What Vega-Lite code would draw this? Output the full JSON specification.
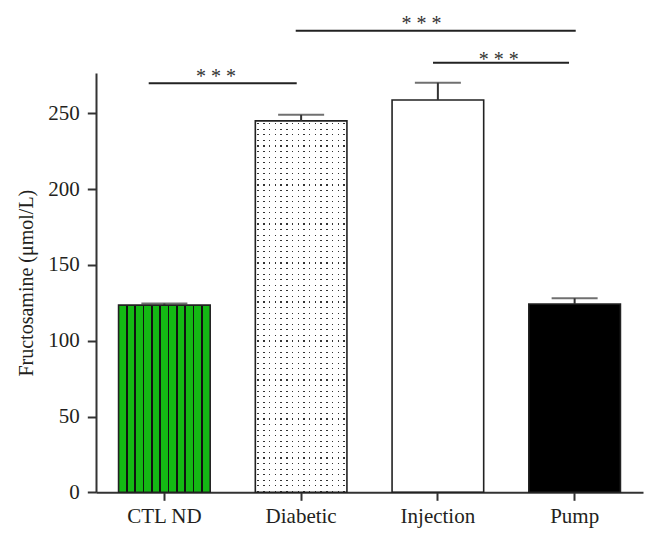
{
  "$schema": "https://vega.github.io/schema/vega-lite/v6.json",
  "autosize": {"type": "none"},
  "width": 547,
  "height": 419.3,
  "padding": {"left": 96, "top": 73, "right": 11, "bottom": 50.7},
  "background": "white",
  "config": {"view": {"stroke": null}},
  "datasets": {
    "bars": [
      {"group": "CTL ND", "value": 123.5, "upper": 124.5},
      {"group": "Diabetic", "value": 245, "upper": 249},
      {"group": "Injection", "value": 258.8, "upper": 270.2},
      {"group": "Pump", "value": 124.2, "upper": 128}
    ],
    "sig": [
      {"id": "left", "from": "CTL ND", "to": "Diabetic", "y": 269.8, "ty": 270.2, "label": "* * *"},
      {"id": "top", "from": "Diabetic", "to": "Pump", "y": 304.5, "ty": 305, "label": "* * *"},
      {"id": "mid", "from": "Injection", "to": "Pump", "y": 283.4, "ty": 281.3, "label": "* * *"}
    ]
  },
  "data": {"name": "bars"},
  "encoding": {
    "x": {
      "field": "group", "type": "nominal", "sort": null,
      "scale": {"domain": ["CTL ND", "Diabetic", "Injection", "Pump"], "paddingInner": 0.33, "paddingOuter": 0.165},
      "axis": {"title": null, "labelAngle": 0, "domainColor": "#333", "domainWidth": 2, "tickColor": "#333", "tickWidth": 2, "tickSize": 8, "labelPadding": 5, "labelFont": "Liberation Serif", "labelFontSize": 21, "labelColor": "#231f20"}
    },
    "y": {
      "field": "value", "type": "quantitative",
      "scale": {"domain": [0, 276.6], "nice": false, "zero": true},
      "axis": {"values": [0, 50, 100, 150, 200, 250], "grid": false, "title": "Fructosamine (μmol/L)", "titleFont": "Liberation Serif", "titleFontSize": 20, "titleFontWeight": "normal", "titleColor": "#231f20", "titlePadding": 11, "domainColor": "#333", "domainWidth": 2, "tickColor": "#333", "tickWidth": 2, "tickSize": 8.7, "labelPadding": 8, "labelFont": "Liberation Serif", "labelFontSize": 21, "labelColor": "#231f20"}
    }
  },
  "layer": [
    {
      "transform": [{"filter": "datum.group === 'Pump'"}],
      "mark": {"type": "bar", "fill": "black"}
    },
    {
      "transform": [{"filter": "datum.group === 'CTL ND'"}],
      "mark": {"type": "bar", "fill": {"gradient": "linear", "x1": 0, "y1": 0, "x2": 1, "y2": 0, "stops": [
        {"offset": 0, "color": "#14b814"},
        {"offset": 0.0829, "color": "#14b814"}, {"offset": 0.0829, "color": "#111"}, {"offset": 0.0989, "color": "#111"}, {"offset": 0.0989, "color": "#14b814"},
        {"offset": 0.1738, "color": "#14b814"}, {"offset": 0.1738, "color": "#111"}, {"offset": 0.1898, "color": "#111"}, {"offset": 0.1898, "color": "#14b814"},
        {"offset": 0.2647, "color": "#14b814"}, {"offset": 0.2647, "color": "#111"}, {"offset": 0.2807, "color": "#111"}, {"offset": 0.2807, "color": "#14b814"},
        {"offset": 0.3556, "color": "#14b814"}, {"offset": 0.3556, "color": "#111"}, {"offset": 0.3716, "color": "#111"}, {"offset": 0.3716, "color": "#14b814"},
        {"offset": 0.4465, "color": "#14b814"}, {"offset": 0.4465, "color": "#111"}, {"offset": 0.4625, "color": "#111"}, {"offset": 0.4625, "color": "#14b814"},
        {"offset": 0.5375, "color": "#14b814"}, {"offset": 0.5375, "color": "#111"}, {"offset": 0.5535, "color": "#111"}, {"offset": 0.5535, "color": "#14b814"},
        {"offset": 0.6284, "color": "#14b814"}, {"offset": 0.6284, "color": "#111"}, {"offset": 0.6444, "color": "#111"}, {"offset": 0.6444, "color": "#14b814"},
        {"offset": 0.7193, "color": "#14b814"}, {"offset": 0.7193, "color": "#111"}, {"offset": 0.7353, "color": "#111"}, {"offset": 0.7353, "color": "#14b814"},
        {"offset": 0.8102, "color": "#14b814"}, {"offset": 0.8102, "color": "#111"}, {"offset": 0.8262, "color": "#111"}, {"offset": 0.8262, "color": "#14b814"},
        {"offset": 0.9011, "color": "#14b814"}, {"offset": 0.9011, "color": "#111"}, {"offset": 0.9171, "color": "#111"}, {"offset": 0.9171, "color": "#14b814"},
        {"offset": 1, "color": "#14b814"}
      ]}}
    },
    {
      "transform": [{"filter": "datum.group === 'Diabetic'"}],
      "mark": {"type": "bar", "fill": {"gradient": "linear", "x1": 0, "y1": 0, "x2": 1, "y2": 0, "stops": [
        {"offset": 0, "color": "#fff"},
        {"offset": 0.02325, "color": "#fff"}, {"offset": 0.02325, "color": "#333"}, {"offset": 0.03925, "color": "#333"}, {"offset": 0.03925, "color": "#fff"},
        {"offset": 0.08575, "color": "#fff"}, {"offset": 0.08575, "color": "#333"}, {"offset": 0.10175, "color": "#333"}, {"offset": 0.10175, "color": "#fff"},
        {"offset": 0.14825, "color": "#fff"}, {"offset": 0.14825, "color": "#333"}, {"offset": 0.16425, "color": "#333"}, {"offset": 0.16425, "color": "#fff"},
        {"offset": 0.21075, "color": "#fff"}, {"offset": 0.21075, "color": "#333"}, {"offset": 0.22675, "color": "#333"}, {"offset": 0.22675, "color": "#fff"},
        {"offset": 0.27325, "color": "#fff"}, {"offset": 0.27325, "color": "#333"}, {"offset": 0.28925, "color": "#333"}, {"offset": 0.28925, "color": "#fff"},
        {"offset": 0.33575, "color": "#fff"}, {"offset": 0.33575, "color": "#333"}, {"offset": 0.35175, "color": "#333"}, {"offset": 0.35175, "color": "#fff"},
        {"offset": 0.39825, "color": "#fff"}, {"offset": 0.39825, "color": "#333"}, {"offset": 0.41425, "color": "#333"}, {"offset": 0.41425, "color": "#fff"},
        {"offset": 0.46075, "color": "#fff"}, {"offset": 0.46075, "color": "#333"}, {"offset": 0.47675, "color": "#333"}, {"offset": 0.47675, "color": "#fff"},
        {"offset": 0.52325, "color": "#fff"}, {"offset": 0.52325, "color": "#333"}, {"offset": 0.53925, "color": "#333"}, {"offset": 0.53925, "color": "#fff"},
        {"offset": 0.58575, "color": "#fff"}, {"offset": 0.58575, "color": "#333"}, {"offset": 0.60175, "color": "#333"}, {"offset": 0.60175, "color": "#fff"},
        {"offset": 0.64825, "color": "#fff"}, {"offset": 0.64825, "color": "#333"}, {"offset": 0.66425, "color": "#333"}, {"offset": 0.66425, "color": "#fff"},
        {"offset": 0.71075, "color": "#fff"}, {"offset": 0.71075, "color": "#333"}, {"offset": 0.72675, "color": "#333"}, {"offset": 0.72675, "color": "#fff"},
        {"offset": 0.77325, "color": "#fff"}, {"offset": 0.77325, "color": "#333"}, {"offset": 0.78925, "color": "#333"}, {"offset": 0.78925, "color": "#fff"},
        {"offset": 0.83575, "color": "#fff"}, {"offset": 0.83575, "color": "#333"}, {"offset": 0.85175, "color": "#333"}, {"offset": 0.85175, "color": "#fff"},
        {"offset": 0.89825, "color": "#fff"}, {"offset": 0.89825, "color": "#333"}, {"offset": 0.91425, "color": "#333"}, {"offset": 0.91425, "color": "#fff"},
        {"offset": 0.96075, "color": "#fff"}, {"offset": 0.96075, "color": "#333"}, {"offset": 0.97675, "color": "#333"}, {"offset": 0.97675, "color": "#fff"},
        {"offset": 1, "color": "#fff"}
      ]}}
    },
    {
      "transform": [{"filter": "datum.group === 'Diabetic'"}],
      "mark": {"type": "bar", "fill": {"gradient": "linear", "x1": 0, "y1": 0, "x2": 0, "y2": 1, "stops": [
        {"offset": 0, "color": "#fff"},
        {"offset": 0.006, "color": "#fff"}, {"offset": 0.006, "color": "rgba(255,255,255,0)"}, {"offset": 0.009, "color": "rgba(255,255,255,0)"}, {"offset": 0.009, "color": "#fff"},
        {"offset": 0.021, "color": "#fff"}, {"offset": 0.021, "color": "rgba(255,255,255,0)"}, {"offset": 0.024, "color": "rgba(255,255,255,0)"}, {"offset": 0.024, "color": "#fff"},
        {"offset": 0.036, "color": "#fff"}, {"offset": 0.036, "color": "rgba(255,255,255,0)"}, {"offset": 0.039, "color": "rgba(255,255,255,0)"}, {"offset": 0.039, "color": "#fff"},
        {"offset": 0.051, "color": "#fff"}, {"offset": 0.051, "color": "rgba(255,255,255,0)"}, {"offset": 0.054, "color": "rgba(255,255,255,0)"}, {"offset": 0.054, "color": "#fff"},
        {"offset": 0.066, "color": "#fff"}, {"offset": 0.066, "color": "rgba(255,255,255,0)"}, {"offset": 0.069, "color": "rgba(255,255,255,0)"}, {"offset": 0.069, "color": "#fff"},
        {"offset": 0.081, "color": "#fff"}, {"offset": 0.081, "color": "rgba(255,255,255,0)"}, {"offset": 0.084, "color": "rgba(255,255,255,0)"}, {"offset": 0.084, "color": "#fff"},
        {"offset": 0.096, "color": "#fff"}, {"offset": 0.096, "color": "rgba(255,255,255,0)"}, {"offset": 0.099, "color": "rgba(255,255,255,0)"}, {"offset": 0.099, "color": "#fff"},
        {"offset": 0.111, "color": "#fff"}, {"offset": 0.111, "color": "rgba(255,255,255,0)"}, {"offset": 0.114, "color": "rgba(255,255,255,0)"}, {"offset": 0.114, "color": "#fff"},
        {"offset": 0.126, "color": "#fff"}, {"offset": 0.126, "color": "rgba(255,255,255,0)"}, {"offset": 0.129, "color": "rgba(255,255,255,0)"}, {"offset": 0.129, "color": "#fff"},
        {"offset": 0.141, "color": "#fff"}, {"offset": 0.141, "color": "rgba(255,255,255,0)"}, {"offset": 0.144, "color": "rgba(255,255,255,0)"}, {"offset": 0.144, "color": "#fff"},
        {"offset": 0.156, "color": "#fff"}, {"offset": 0.156, "color": "rgba(255,255,255,0)"}, {"offset": 0.159, "color": "rgba(255,255,255,0)"}, {"offset": 0.159, "color": "#fff"},
        {"offset": 0.171, "color": "#fff"}, {"offset": 0.171, "color": "rgba(255,255,255,0)"}, {"offset": 0.174, "color": "rgba(255,255,255,0)"}, {"offset": 0.174, "color": "#fff"},
        {"offset": 0.186, "color": "#fff"}, {"offset": 0.186, "color": "rgba(255,255,255,0)"}, {"offset": 0.189, "color": "rgba(255,255,255,0)"}, {"offset": 0.189, "color": "#fff"},
        {"offset": 0.201, "color": "#fff"}, {"offset": 0.201, "color": "rgba(255,255,255,0)"}, {"offset": 0.204, "color": "rgba(255,255,255,0)"}, {"offset": 0.204, "color": "#fff"},
        {"offset": 0.216, "color": "#fff"}, {"offset": 0.216, "color": "rgba(255,255,255,0)"}, {"offset": 0.219, "color": "rgba(255,255,255,0)"}, {"offset": 0.219, "color": "#fff"},
        {"offset": 0.231, "color": "#fff"}, {"offset": 0.231, "color": "rgba(255,255,255,0)"}, {"offset": 0.234, "color": "rgba(255,255,255,0)"}, {"offset": 0.234, "color": "#fff"},
        {"offset": 0.246, "color": "#fff"}, {"offset": 0.246, "color": "rgba(255,255,255,0)"}, {"offset": 0.249, "color": "rgba(255,255,255,0)"}, {"offset": 0.249, "color": "#fff"},
        {"offset": 0.261, "color": "#fff"}, {"offset": 0.261, "color": "rgba(255,255,255,0)"}, {"offset": 0.264, "color": "rgba(255,255,255,0)"}, {"offset": 0.264, "color": "#fff"},
        {"offset": 0.276, "color": "#fff"}, {"offset": 0.276, "color": "rgba(255,255,255,0)"}, {"offset": 0.279, "color": "rgba(255,255,255,0)"}, {"offset": 0.279, "color": "#fff"},
        {"offset": 0.291, "color": "#fff"}, {"offset": 0.291, "color": "rgba(255,255,255,0)"}, {"offset": 0.294, "color": "rgba(255,255,255,0)"}, {"offset": 0.294, "color": "#fff"},
        {"offset": 0.306, "color": "#fff"}, {"offset": 0.306, "color": "rgba(255,255,255,0)"}, {"offset": 0.309, "color": "rgba(255,255,255,0)"}, {"offset": 0.309, "color": "#fff"},
        {"offset": 0.321, "color": "#fff"}, {"offset": 0.321, "color": "rgba(255,255,255,0)"}, {"offset": 0.324, "color": "rgba(255,255,255,0)"}, {"offset": 0.324, "color": "#fff"},
        {"offset": 0.336, "color": "#fff"}, {"offset": 0.336, "color": "rgba(255,255,255,0)"}, {"offset": 0.339, "color": "rgba(255,255,255,0)"}, {"offset": 0.339, "color": "#fff"},
        {"offset": 0.351, "color": "#fff"}, {"offset": 0.351, "color": "rgba(255,255,255,0)"}, {"offset": 0.354, "color": "rgba(255,255,255,0)"}, {"offset": 0.354, "color": "#fff"},
        {"offset": 0.366, "color": "#fff"}, {"offset": 0.366, "color": "rgba(255,255,255,0)"}, {"offset": 0.369, "color": "rgba(255,255,255,0)"}, {"offset": 0.369, "color": "#fff"},
        {"offset": 0.381, "color": "#fff"}, {"offset": 0.381, "color": "rgba(255,255,255,0)"}, {"offset": 0.384, "color": "rgba(255,255,255,0)"}, {"offset": 0.384, "color": "#fff"},
        {"offset": 0.396, "color": "#fff"}, {"offset": 0.396, "color": "rgba(255,255,255,0)"}, {"offset": 0.399, "color": "rgba(255,255,255,0)"}, {"offset": 0.399, "color": "#fff"},
        {"offset": 0.411, "color": "#fff"}, {"offset": 0.411, "color": "rgba(255,255,255,0)"}, {"offset": 0.414, "color": "rgba(255,255,255,0)"}, {"offset": 0.414, "color": "#fff"},
        {"offset": 0.426, "color": "#fff"}, {"offset": 0.426, "color": "rgba(255,255,255,0)"}, {"offset": 0.429, "color": "rgba(255,255,255,0)"}, {"offset": 0.429, "color": "#fff"},
        {"offset": 0.441, "color": "#fff"}, {"offset": 0.441, "color": "rgba(255,255,255,0)"}, {"offset": 0.444, "color": "rgba(255,255,255,0)"}, {"offset": 0.444, "color": "#fff"},
        {"offset": 0.456, "color": "#fff"}, {"offset": 0.456, "color": "rgba(255,255,255,0)"}, {"offset": 0.459, "color": "rgba(255,255,255,0)"}, {"offset": 0.459, "color": "#fff"},
        {"offset": 0.471, "color": "#fff"}, {"offset": 0.471, "color": "rgba(255,255,255,0)"}, {"offset": 0.474, "color": "rgba(255,255,255,0)"}, {"offset": 0.474, "color": "#fff"},
        {"offset": 0.486, "color": "#fff"}, {"offset": 0.486, "color": "rgba(255,255,255,0)"}, {"offset": 0.489, "color": "rgba(255,255,255,0)"}, {"offset": 0.489, "color": "#fff"},
        {"offset": 0.501, "color": "#fff"}, {"offset": 0.501, "color": "rgba(255,255,255,0)"}, {"offset": 0.504, "color": "rgba(255,255,255,0)"}, {"offset": 0.504, "color": "#fff"},
        {"offset": 0.516, "color": "#fff"}, {"offset": 0.516, "color": "rgba(255,255,255,0)"}, {"offset": 0.519, "color": "rgba(255,255,255,0)"}, {"offset": 0.519, "color": "#fff"},
        {"offset": 0.531, "color": "#fff"}, {"offset": 0.531, "color": "rgba(255,255,255,0)"}, {"offset": 0.534, "color": "rgba(255,255,255,0)"}, {"offset": 0.534, "color": "#fff"},
        {"offset": 0.546, "color": "#fff"}, {"offset": 0.546, "color": "rgba(255,255,255,0)"}, {"offset": 0.549, "color": "rgba(255,255,255,0)"}, {"offset": 0.549, "color": "#fff"},
        {"offset": 0.561, "color": "#fff"}, {"offset": 0.561, "color": "rgba(255,255,255,0)"}, {"offset": 0.564, "color": "rgba(255,255,255,0)"}, {"offset": 0.564, "color": "#fff"},
        {"offset": 0.576, "color": "#fff"}, {"offset": 0.576, "color": "rgba(255,255,255,0)"}, {"offset": 0.579, "color": "rgba(255,255,255,0)"}, {"offset": 0.579, "color": "#fff"},
        {"offset": 0.591, "color": "#fff"}, {"offset": 0.591, "color": "rgba(255,255,255,0)"}, {"offset": 0.594, "color": "rgba(255,255,255,0)"}, {"offset": 0.594, "color": "#fff"},
        {"offset": 0.606, "color": "#fff"}, {"offset": 0.606, "color": "rgba(255,255,255,0)"}, {"offset": 0.609, "color": "rgba(255,255,255,0)"}, {"offset": 0.609, "color": "#fff"},
        {"offset": 0.621, "color": "#fff"}, {"offset": 0.621, "color": "rgba(255,255,255,0)"}, {"offset": 0.624, "color": "rgba(255,255,255,0)"}, {"offset": 0.624, "color": "#fff"},
        {"offset": 0.636, "color": "#fff"}, {"offset": 0.636, "color": "rgba(255,255,255,0)"}, {"offset": 0.639, "color": "rgba(255,255,255,0)"}, {"offset": 0.639, "color": "#fff"},
        {"offset": 0.651, "color": "#fff"}, {"offset": 0.651, "color": "rgba(255,255,255,0)"}, {"offset": 0.654, "color": "rgba(255,255,255,0)"}, {"offset": 0.654, "color": "#fff"},
        {"offset": 0.666, "color": "#fff"}, {"offset": 0.666, "color": "rgba(255,255,255,0)"}, {"offset": 0.669, "color": "rgba(255,255,255,0)"}, {"offset": 0.669, "color": "#fff"},
        {"offset": 0.681, "color": "#fff"}, {"offset": 0.681, "color": "rgba(255,255,255,0)"}, {"offset": 0.684, "color": "rgba(255,255,255,0)"}, {"offset": 0.684, "color": "#fff"},
        {"offset": 0.696, "color": "#fff"}, {"offset": 0.696, "color": "rgba(255,255,255,0)"}, {"offset": 0.699, "color": "rgba(255,255,255,0)"}, {"offset": 0.699, "color": "#fff"},
        {"offset": 0.711, "color": "#fff"}, {"offset": 0.711, "color": "rgba(255,255,255,0)"}, {"offset": 0.714, "color": "rgba(255,255,255,0)"}, {"offset": 0.714, "color": "#fff"},
        {"offset": 0.726, "color": "#fff"}, {"offset": 0.726, "color": "rgba(255,255,255,0)"}, {"offset": 0.729, "color": "rgba(255,255,255,0)"}, {"offset": 0.729, "color": "#fff"},
        {"offset": 0.741, "color": "#fff"}, {"offset": 0.741, "color": "rgba(255,255,255,0)"}, {"offset": 0.744, "color": "rgba(255,255,255,0)"}, {"offset": 0.744, "color": "#fff"},
        {"offset": 0.756, "color": "#fff"}, {"offset": 0.756, "color": "rgba(255,255,255,0)"}, {"offset": 0.759, "color": "rgba(255,255,255,0)"}, {"offset": 0.759, "color": "#fff"},
        {"offset": 0.771, "color": "#fff"}, {"offset": 0.771, "color": "rgba(255,255,255,0)"}, {"offset": 0.774, "color": "rgba(255,255,255,0)"}, {"offset": 0.774, "color": "#fff"},
        {"offset": 0.786, "color": "#fff"}, {"offset": 0.786, "color": "rgba(255,255,255,0)"}, {"offset": 0.789, "color": "rgba(255,255,255,0)"}, {"offset": 0.789, "color": "#fff"},
        {"offset": 0.801, "color": "#fff"}, {"offset": 0.801, "color": "rgba(255,255,255,0)"}, {"offset": 0.804, "color": "rgba(255,255,255,0)"}, {"offset": 0.804, "color": "#fff"},
        {"offset": 0.816, "color": "#fff"}, {"offset": 0.816, "color": "rgba(255,255,255,0)"}, {"offset": 0.819, "color": "rgba(255,255,255,0)"}, {"offset": 0.819, "color": "#fff"},
        {"offset": 0.831, "color": "#fff"}, {"offset": 0.831, "color": "rgba(255,255,255,0)"}, {"offset": 0.834, "color": "rgba(255,255,255,0)"}, {"offset": 0.834, "color": "#fff"},
        {"offset": 0.846, "color": "#fff"}, {"offset": 0.846, "color": "rgba(255,255,255,0)"}, {"offset": 0.849, "color": "rgba(255,255,255,0)"}, {"offset": 0.849, "color": "#fff"},
        {"offset": 0.861, "color": "#fff"}, {"offset": 0.861, "color": "rgba(255,255,255,0)"}, {"offset": 0.864, "color": "rgba(255,255,255,0)"}, {"offset": 0.864, "color": "#fff"},
        {"offset": 0.876, "color": "#fff"}, {"offset": 0.876, "color": "rgba(255,255,255,0)"}, {"offset": 0.879, "color": "rgba(255,255,255,0)"}, {"offset": 0.879, "color": "#fff"},
        {"offset": 0.891, "color": "#fff"}, {"offset": 0.891, "color": "rgba(255,255,255,0)"}, {"offset": 0.894, "color": "rgba(255,255,255,0)"}, {"offset": 0.894, "color": "#fff"},
        {"offset": 0.906, "color": "#fff"}, {"offset": 0.906, "color": "rgba(255,255,255,0)"}, {"offset": 0.909, "color": "rgba(255,255,255,0)"}, {"offset": 0.909, "color": "#fff"},
        {"offset": 0.921, "color": "#fff"}, {"offset": 0.921, "color": "rgba(255,255,255,0)"}, {"offset": 0.924, "color": "rgba(255,255,255,0)"}, {"offset": 0.924, "color": "#fff"},
        {"offset": 0.936, "color": "#fff"}, {"offset": 0.936, "color": "rgba(255,255,255,0)"}, {"offset": 0.939, "color": "rgba(255,255,255,0)"}, {"offset": 0.939, "color": "#fff"},
        {"offset": 0.951, "color": "#fff"}, {"offset": 0.951, "color": "rgba(255,255,255,0)"}, {"offset": 0.954, "color": "rgba(255,255,255,0)"}, {"offset": 0.954, "color": "#fff"},
        {"offset": 0.966, "color": "#fff"}, {"offset": 0.966, "color": "rgba(255,255,255,0)"}, {"offset": 0.969, "color": "rgba(255,255,255,0)"}, {"offset": 0.969, "color": "#fff"},
        {"offset": 0.981, "color": "#fff"}, {"offset": 0.981, "color": "rgba(255,255,255,0)"}, {"offset": 0.984, "color": "rgba(255,255,255,0)"}, {"offset": 0.984, "color": "#fff"},
        {"offset": 0.996, "color": "#fff"}, {"offset": 0.996, "color": "rgba(255,255,255,0)"}, {"offset": 0.999, "color": "rgba(255,255,255,0)"}, {"offset": 0.999, "color": "#fff"},
        {"offset": 1, "color": "#fff"}
      ]}}
    },
    {
      "mark": {"type": "bar", "fill": "transparent", "stroke": "#222", "strokeWidth": 1.6}
    },
    {
      "mark": {"type": "rule", "color": "#333", "strokeWidth": 2},
      "encoding": {"y2": {"field": "upper"}}
    },
    {
      "mark": {"type": "tick", "color": "#333", "thickness": 2, "size": 46},
      "encoding": {"y": {"field": "upper", "type": "quantitative"}}
    },
    {
      "data": {"name": "sig"},
      "transform": [{"filter": "datum.id === 'left'"}],
      "mark": {"type": "rule", "color": "#222", "strokeWidth": 2},
      "encoding": {
        "x": {"field": "from", "type": "nominal", "bandPosition": 0.329},
        "x2": {"field": "to", "bandPosition": 0.452},
        "y": {"field": "y", "type": "quantitative"}
      }
    },
    {
      "data": {"name": "sig"},
      "transform": [{"filter": "datum.id === 'top'"}],
      "mark": {"type": "rule", "color": "#222", "strokeWidth": 2},
      "encoding": {
        "x": {"field": "from", "type": "nominal", "bandPosition": 0.441},
        "x2": {"field": "to", "bandPosition": 0.512},
        "y": {"field": "y", "type": "quantitative"}
      }
    },
    {
      "data": {"name": "sig"},
      "transform": [{"filter": "datum.id === 'mid'"}],
      "mark": {"type": "rule", "color": "#222", "strokeWidth": 2},
      "encoding": {
        "x": {"field": "from", "type": "nominal", "bandPosition": 0.447},
        "x2": {"field": "to", "bandPosition": 0.439},
        "y": {"field": "y", "type": "quantitative"}
      }
    },
    {
      "data": {"name": "sig"},
      "transform": [{"filter": "datum.id === 'left'"}],
      "mark": {"type": "text", "font": "Liberation Serif", "fontSize": 20, "color": "#333", "align": "center", "baseline": "alphabetic"},
      "encoding": {
        "x": {"field": "from", "type": "nominal", "bandPosition": 1.064},
        "y": {"field": "ty", "type": "quantitative"},
        "text": {"field": "label"}
      }
    },
    {
      "data": {"name": "sig"},
      "transform": [{"filter": "datum.id === 'top'"}],
      "mark": {"type": "text", "font": "Liberation Serif", "fontSize": 20, "color": "#333", "align": "center", "baseline": "alphabetic"},
      "encoding": {
        "x": {"field": "to", "type": "nominal", "bandPosition": -1.17},
        "y": {"field": "ty", "type": "quantitative"},
        "text": {"field": "label"}
      }
    },
    {
      "data": {"name": "sig"},
      "transform": [{"filter": "datum.id === 'mid'"}],
      "mark": {"type": "text", "font": "Liberation Serif", "fontSize": 20, "color": "#333", "align": "center", "baseline": "alphabetic"},
      "encoding": {
        "x": {"field": "to", "type": "nominal", "bandPosition": -0.327},
        "y": {"field": "ty", "type": "quantitative"},
        "text": {"field": "label"}
      }
    }
  ]
}
